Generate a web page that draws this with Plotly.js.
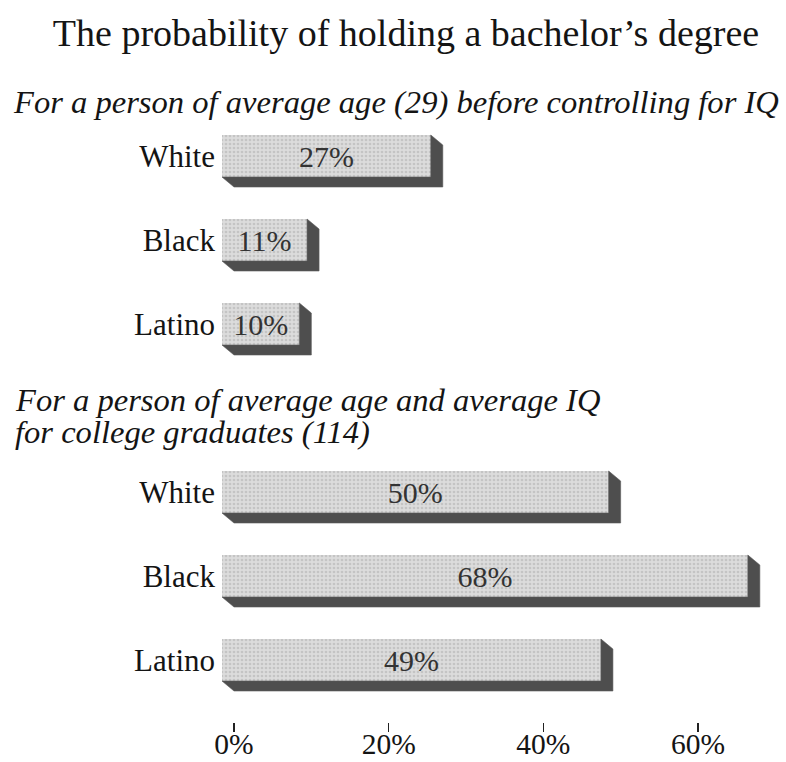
<!DOCTYPE html>
<html>
<head>
<meta charset="utf-8">
<script src="https://cdn.plot.ly/plotly-3.0.1.min.js"></script>
<style>
  html, body { margin: 0; padding: 0; background: #ffffff; }
  #chart { width: 786px; height: 762px; }
</style>
</head>
<body>
<div id="chart"></div>
<script>
// ---- data ----
const categories = ['White', 'Black', 'Latino'];
const valuesBeforeIQ = [27, 11, 10];
const valuesWithIQ = [50, 68, 49];
const tickVals = [0, 20, 40, 60];
const tickText = ['0%', '20%', '40%', '60%'];
const titleText = 'The probability of holding a bachelor\u2019s degree';
const subtitleTop = 'For a person of average age (29) before controlling for IQ';
const subtitleBottom1 = 'For a person of average age and average IQ';
const subtitleBottom2 = 'for college graduates (114)';

// ---- layout geometry (pixels) ----
const W = 786, H = 762;
const ML = 216, MR = 16, MT = 0, MB = 40;
const plotW = W - ML - MR, plotH = H - MT - MB;
const pxPerPct = 7.733;          // 20% = ~155 px
const zeroPx = 234;
const xMin = (ML - zeroPx) / pxPerPct;
const xMax = (W - MR - zeroPx) / pxPerPct;
const rowPx = 84;
const paperX = p => (p - ML) / plotW;
const paperY = p => (H - MB - p) / plotH;

// 3-D extrusion offsets (front face shifted up-left of the back face)
const dx = 12 / pxPerPct;
const dy = 10 / rowPx;
const half = 0.25;

const serif = 'Liberation Serif, Times New Roman, serif';

function extrusion(vals, yaxis) {
  const xs = [], ys = [];
  vals.forEach((v, i) => {
    const x0f = -dx, x1f = v - dx, x0b = 0, x1b = v;
    const ytf = i - half, ybf = i + half, ytb = ytf + dy, ybb = ybf + dy;
    xs.push(x0f, x0b, x1b, x1b, x1f, x1f, x0f, null);
    ys.push(ybf, ybb, ybb, ytb, ytf, ybf, ybf, null);
  });
  return {
    type: 'scatter', mode: 'lines', x: xs, y: ys, yaxis: yaxis,
    fill: 'toself', fillcolor: '#4e4e4e',
    line: { width: 0.6, color: '#5a5a5a' },
    hoverinfo: 'skip', showlegend: false
  };
}

function faces(vals, yaxis) {
  return {
    type: 'bar', orientation: 'h', yaxis: yaxis,
    y: vals.map((v, i) => i), x: vals, base: -dx, width: 2 * half,
    marker: {
      color: '#d8d8d8', line: { width: 0 },
      pattern: { shape: '.', fgcolor: '#c4c4c4', bgcolor: '#dcdcdc', size: 4, solidity: 0.35 }
    },
    text: vals.map(v => v + '%'),
    textposition: 'inside', insidetextanchor: 'middle', textangle: 0,
    constraintext: 'none',
    textfont: { family: serif, size: 30, color: '#333333' },
    hoverinfo: 'skip', showlegend: false
  };
}

const data = [
  extrusion(valuesBeforeIQ, 'y2'), faces(valuesBeforeIQ, 'y2'),
  extrusion(valuesWithIQ, 'y'), faces(valuesWithIQ, 'y')
];

// top group: rows at 156, 240, 324 px ; bottom group: rows at 492, 576, 660 px
const topPx = [110, 370], botPx = [450, H - MB];
const yAxisCommon = {
  tickmode: 'array', tickvals: [0, 1, 2], ticktext: categories,
  showgrid: false, zeroline: false, showline: false, ticks: '',
  tickfont: { family: serif, size: 31, color: '#141414' },
  fixedrange: true, automargin: false, anchor: 'x'
};

const layout = {
  width: W, height: H,
  margin: { l: ML, r: MR, t: MT, b: MB, pad: 0 },
  paper_bgcolor: '#ffffff', plot_bgcolor: '#ffffff',
  showlegend: false, hovermode: false, bargap: 0,
  title: {
    text: titleText, x: 406 / W, xanchor: 'center', xref: 'container',
    y: 1 - 33 / H, yanchor: 'middle', yref: 'container',
    font: { family: serif, size: 38, color: '#141414' }
  },
  xaxis: {
    range: [xMin, xMax], tickmode: 'array', tickvals: tickVals, ticktext: tickText,
    ticks: 'outside', ticklen: 9, tickwidth: 1.5, tickcolor: '#222',
    ticklabelstandoff: -13,
    showgrid: false, zeroline: false, showline: false,
    tickfont: { family: serif, size: 29.5, color: '#141414' },
    anchor: 'y', fixedrange: true, automargin: false
  },
  yaxis: Object.assign({}, yAxisCommon, {
    domain: [paperY(botPx[1]), paperY(botPx[0])],
    range: [2 + (botPx[1] - 660) / rowPx, (botPx[0] - 492) / rowPx]
  }),
  yaxis2: Object.assign({}, yAxisCommon, {
    domain: [paperY(topPx[1]), paperY(topPx[0])],
    range: [(topPx[1] - 156) / rowPx, (topPx[0] - 156) / rowPx]
  }),
  annotations: [
    { text: subtitleTop, xref: 'paper', yref: 'paper', x: paperX(11), y: paperY(102),
      xanchor: 'left', yanchor: 'middle', showarrow: false,
      font: { family: serif, size: 32.6, color: '#141414', style: 'italic' } },
    { text: subtitleBottom1, xref: 'paper', yref: 'paper', x: paperX(13), y: paperY(400),
      xanchor: 'left', yanchor: 'middle', showarrow: false,
      font: { family: serif, size: 32.6, color: '#141414', style: 'italic' } },
    { text: subtitleBottom2, xref: 'paper', yref: 'paper', x: paperX(13), y: paperY(432),
      xanchor: 'left', yanchor: 'middle', showarrow: false,
      font: { family: serif, size: 32.6, color: '#141414', style: 'italic' } }
  ]
};

Plotly.newPlot('chart', data, layout, { displayModeBar: false, staticPlot: true });
</script>
</body>
</html>
